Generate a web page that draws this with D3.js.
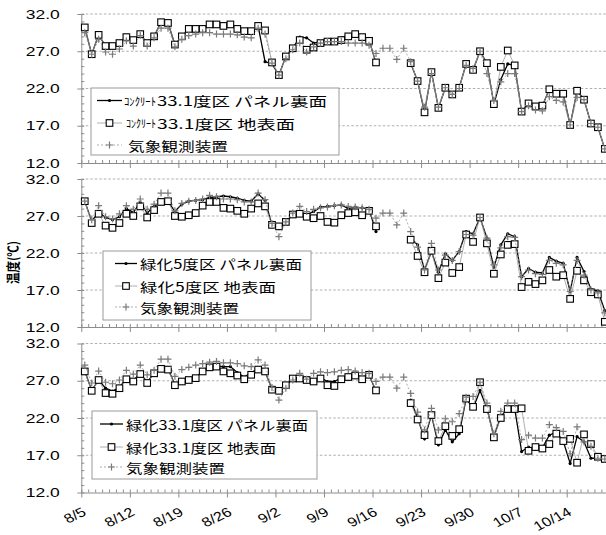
<!DOCTYPE html>
<html>
<head>
<meta charset="utf-8">
<script src="https://cdn.jsdelivr.net/npm/d3@7"></script>
<style>
  body { margin: 0; background: #fff; }
  svg { display: block; }
</style>
</head>
<body>
<div id="chart"></div>
<script>
// categories: one point per day, 8/5 .. 10/19
const days = d3.timeDay.range(new Date(2012, 7, 5), new Date(2012, 9, 20)).map(d3.timeFormat("%-m/%-d"));
const weekTicks = ["8/5", "8/12", "8/19", "8/26", "9/2", "9/9", "9/16", "9/23", "9/30", "10/7", "10/14"];
const yTicks = [12, 17, 22, 27, 32];
const _ = null;

// panel 1: コンクリート33.1度区
const con331Panel = [30.2, 26.6, 29.2, 27.7, 27.7, 28.1, 28.9, 28.5, 29.3, 28.1, 29.0, 30.9, 30.8, 27.9, 29.0, 30.0, 30.0, 30.0, 30.6, 30.6,
  30.4, 30.6, 30.0, 29.7, 29.7, 30.4, 25.6, 25.3, 23.8, 26.3, 27.4, 28.9, 28.8, 28.1, 28.3, 28.5, 28.6, 28.8, 29.2, 29.2,
  28.9, 28.5, 25.4, _, _, _, _, 25.4, 23.0, 18.8, 24.2, 19.4, 22.1, 21.2, 22.1, 25.3, 24.5, 27.0, 25.4, 19.9,
  23.2, 25.3, 25.1, 18.9, 20.0, 19.6, 19.7, 21.9, 21.3, 21.3, 17.1, 21.7, 20.5, 17.3, 16.8, 13.9];
const con331Ground = [30.2, 26.6, 29.2, 27.7, 27.7, 28.1, 28.9, 28.5, 29.3, 28.1, 29.0, 30.9, 30.8, 27.9, 29.0, 30.0, 30.0, 30.0, 30.6, 30.6,
  30.4, 30.6, 30.0, 29.7, 29.7, 30.4, 29.8, 25.5, 23.8, 26.3, 27.4, 28.5, 27.2, 27.5, 28.1, 28.3, 28.3, 28.5, 29.0, 29.3,
  28.9, 28.4, 25.5, _, _, _, _, 25.4, 23.0, 18.8, 24.2, 19.4, 22.1, 21.2, 22.1, 25.3, 24.5, 27.0, 25.4, 19.9,
  24.9, 27.1, 25.1, 18.9, 20.0, 19.6, 19.7, 21.9, 21.3, 21.3, 17.1, 21.7, 20.5, 17.3, 16.8, 13.9];
const con331Weather = [29.5, 26.6, 28.6, 26.9, 26.6, 27.3, 28.4, 27.7, 29.1, 27.7, 28.8, 30.1, 30.1, 27.6, 28.6, 29.1, 29.3, 29.5, 29.5, 29.3,
  29.3, 29.3, 29.2, 28.9, 28.8, 30.1, 29.3, 25.4, 23.8, 26.0, 27.2, 28.1, 26.9, 27.6, 28.1, 28.3, 28.3, 28.3, 28.1, 28.1,
  28.1, 27.8, 26.7, 27.4, 27.4, 25.9, 27.4, 25.6, 23.0, 19.5, 24.0, 19.5, 22.1, 21.2, 22.0, 25.1, 24.7, 27.0, 24.0, 20.4,
  22.9, 24.0, 24.0, 18.9, 19.7, 19.1, 19.0, 20.9, 20.4, 20.2, 17.1, 20.8, 20.5, 17.3, 16.8, 13.9];

// panel 2: 緑化5度区
const green5Panel = [29.0, 26.3, 27.5, 26.8, 26.5, 26.9, 28.0, 27.5, 28.8, 27.4, 28.3, 28.9, 29.0, 27.6, 28.6, 29.0, 29.1, 29.2, 29.5, 29.6,
  29.7, 29.6, 29.4, 29.1, 29.0, 30.0, 29.1, 25.8, 25.3, 26.1, 27.2, 27.6, 27.2, 27.6, 28.2, 28.3, 28.4, 28.5, 28.0, 28.2,
  28.1, 27.9, 24.9, _, _, _, _, 24.0, 23.1, 19.7, 22.2, 19.4, 21.9, 21.0, 22.2, 24.9, 24.6, 26.8, 24.0, 20.1,
  23.1, 24.6, 24.2, 18.8, 19.9, 19.4, 19.3, 21.4, 20.9, 20.6, 16.8, 21.4, 19.5, 17.1, 16.9, 14.2];
const green5Ground = [29.0, 26.05, 27.3, 25.7, 25.4, 26.05, 27.3, 27.0, 28.3, 26.8, 27.8, 28.9, 29.0, 27.0, 26.9, 27.1, 27.4, 28.4, 28.9, 28.9,
  28.1, 28.0, 27.7, 27.3, 28.0, 28.7, 28.3, 25.8, 25.6, 26.2, 27.2, 27.3, 26.9, 26.7, 27.0, 26.2, 26.1, 27.1, 27.4, 27.5,
  27.1, 27.7, 25.6, _, _, _, _, 23.8, 21.6, 19.4, 22.3, 18.6, 20.7, 19.3, 20.1, 24.5, 23.5, 26.8, 23.3, 19.2,
  21.8, 23.1, 23.2, 17.4, 18.1, 17.8, 18.3, 19.7, 18.8, 19.0, 15.8, 19.6, 18.3, 16.7, 16.4, 12.7];
const green5Weather = [29.0, 26.5, 28.4, 26.9, 26.6, 27.3, 28.4, 27.9, 29.3, 27.9, 28.6, 30.1, 30.1, 27.7, 28.7, 29.0, 29.1, 29.3, 29.8, 29.6,
  29.3, 29.3, 29.2, 28.9, 28.9, 30.1, 29.2, 26.0, 24.2, 26.2, 27.4, 28.3, 27.6, 27.9, 28.1, 28.2, 28.4, 28.5, 28.3, 28.2,
  28.1, 27.9, 26.7, 27.4, 27.4, 25.8, 27.4, 24.9, 22.8, 19.7, 23.3, 19.7, 21.7, 21.0, 22.2, 24.5, 24.4, 26.8, 24.0, 20.4,
  22.7, 24.2, 24.1, 18.8, 19.7, 19.2, 19.1, 21.0, 20.6, 20.4, 16.8, 21.0, 19.0, 17.0, 16.6, 13.9];

// panel 3: 緑化33.1度区
const green331Panel = [28.3, 25.7, 27.1, 26.0, 25.6, 26.1, 27.3, 27.0, 28.0, 26.8, 28.0, 28.6, 28.6, 26.5, 27.0, 27.2, 27.4, 28.3, 28.9, 29.0,
  28.9, 28.9, 28.1, 27.5, 28.1, 28.6, 28.2, 25.9, 25.6, 26.3, 27.3, 27.4, 27.3, 27.0, 27.4, 26.9, 26.9, 27.4, 27.6, 27.8,
  27.5, 27.8, 25.6, _, _, _, _, 24.4, 22.0, 19.2, 22.4, 18.4, 20.4, 18.8, 19.9, 24.6, 23.3, 25.7, 23.3, 19.5,
  22.2, 23.3, 23.3, 17.5, 18.1, 17.8, 18.0, 19.7, 20.1, 18.9, 15.9, 19.5, 18.8, 16.6, 16.6, 16.4];
const green331Ground = [28.25, 25.65, 27.1, 25.35, 25.25, 26.0, 27.2, 26.9, 27.9, 26.7, 28.0, 28.6, 28.5, 26.4, 26.9, 27.1, 27.35, 28.25, 28.8, 28.9,
  28.25, 28.0, 27.7, 27.2, 27.8, 28.5, 28.25, 25.8, 25.65, 26.4, 27.3, 27.3, 27.1, 26.9, 27.3, 26.4, 26.3, 27.2, 27.5, 27.7,
  27.2, 27.8, 25.7, _, _, _, _, 24.0, 21.8, 19.7, 22.4, 18.9, 20.9, 19.6, 20.5, 24.6, 23.5, 26.8, 23.2, 19.4,
  22.0, 23.2, 23.2, 23.3, 17.6, 18.1, 17.9, 18.5, 19.9, 18.9, 19.2, 16.0, 19.8, 18.5, 16.8, 16.5];
const green331Weather = [29.1, 26.7, 28.3, 26.8, 26.6, 27.1, 28.4, 27.9, 29.1, 27.8, 28.4, 29.9, 29.9, 27.6, 28.5, 28.8, 29.1, 29.3, 29.5, 29.6,
  29.4, 29.4, 29.3, 29.0, 28.9, 29.8, 29.1, 26.1, 24.4, 26.0, 27.1, 28.0, 27.2, 28.0, 28.2, 28.1, 28.2, 28.4, 28.5, 28.3,
  28.1, 28.0, 26.9, 27.5, 27.5, 26.0, 27.5, 25.3, 22.8, 20.4, 23.3, 20.4, 21.9, 21.5, 22.6, 24.8, 24.9, 26.8, 24.0, 19.9,
  22.9, 24.0, 24.0, 19.1, 19.7, 19.3, 19.3, 21.1, 20.7, 20.2, 17.2, 20.8, 18.8, 18.2, 16.6, 16.5];

const panels = [
  { top: 14, bottom: 163, series: [con331Panel, con331Ground, con331Weather],
    legend: { x: 91, y: 88, w: 248, h: 67, rows: [100.5, 123, 145], sx: [97, 122],
      labels: [
        [{ t: "ｺﾝｸﾘｰﾄ", x: 124, len: 32, fs: 11 }, { t: "33.1度区 パネル裏面", x: 157, len: 170, fs: 13 }],
        [{ t: "ｺﾝｸﾘｰﾄ", x: 126, len: 30, fs: 11 }, { t: "33.1度区 地表面", x: 157, len: 138, fs: 13 }],
        [{ t: "気象観測装置", x: 128, len: 100, fs: 13 }]] } },
  { top: 179, bottom: 327, series: [green5Panel, green5Ground, green5Weather],
    legend: { x: 103, y: 251, w: 208, h: 69, rows: [263.5, 286, 307], sx: [115, 137],
      labels: [
        [{ t: "緑化5度区 パネル裏面", x: 140, len: 162, fs: 13 }],
        [{ t: "緑化5度区 地表面", x: 140, len: 136, fs: 13 }],
        [{ t: "気象観測装置", x: 140, len: 99, fs: 13 }]] } },
  { top: 343.5, bottom: 492.5, series: [green331Panel, green331Ground, green331Weather],
    legend: { x: 92, y: 411, w: 225, h: 68, rows: [424, 447, 467], sx: [100, 123],
      labels: [
        [{ t: "緑化33.1度区 パネル裏面", x: 126, len: 182, fs: 13 }],
        [{ t: "緑化33.1度区 地表面", x: 126, len: 150, fs: 13 }],
        [{ t: "気象観測装置", x: 126, len: 99, fs: 13 }]] } }
];

const width = 606, height = 535;
const left = 81.3, dayW = 6.934;
const grey = "#8c8c8c";
const jpFont = "'Noto Sans CJK JP', 'Noto Sans', sans-serif";
const numFont = "'Liberation Sans', Arial, sans-serif";

const svg = d3.select("#chart").append("svg")
  .attr("width", width)
  .attr("height", height);

const x = d3.scaleLinear().domain([0, days.length]).range([left, left + days.length * dayW]);
const dayX = i => x(i + 0.5);

// marker drawers
function drawDot(g, cx, cy) {
  g.append("circle").attr("cx", cx).attr("cy", cy).attr("r", 1.6).attr("fill", "#000");
}
function drawSquare(g, cx, cy) {
  g.append("rect").attr("x", cx - 3.3).attr("y", cy - 3.3).attr("width", 6.6).attr("height", 6.6)
    .attr("fill", "#fff").attr("stroke", "#000").attr("stroke-width", 1.1);
}
function drawPlus(g, cx, cy) {
  g.append("path").attr("d", `M${cx - 3.5},${cy}H${cx + 3.5}M${cx},${cy - 3.5}V${cy + 3.5}`)
    .attr("stroke", "#7a7a7a").attr("stroke-width", 1.2).attr("fill", "none");
}
const styles = [
  { stroke: "#000", width: 1.3, dash: null, marker: drawDot },
  { stroke: "#9a9a9a", width: 0.8, dash: null, marker: drawSquare },
  { stroke: "#9a9a9a", width: 0.8, dash: "2,2", marker: drawPlus }
];

panels.forEach((p, pi) => {
  const y = d3.scaleLinear().domain([12, 32]).range([p.bottom, p.top]);
  const g = svg.append("g");

  // dashed gridlines
  g.selectAll(".grid").data(yTicks.slice(1)).enter().append("line")
    .attr("x1", left).attr("x2", width + 5)
    .attr("y1", d => y(d)).attr("y2", d => y(d))
    .attr("stroke", "#9a9a9a").attr("stroke-width", 0.8).attr("stroke-dasharray", "2.5,2");

  // y axis
  const yAxis = g.append("g").attr("transform", `translate(${left},0)`)
    .call(d3.axisLeft(y).tickValues(yTicks).tickFormat(d3.format(".1f")).tickSize(4).tickSizeOuter(0));
  yAxis.select(".domain").attr("stroke", grey);
  yAxis.selectAll(".tick line").attr("stroke", grey);
  yAxis.selectAll(".tick text")
    .attr("x", -55.5).attr("text-anchor", "start")
    .attr("textLength", 34).attr("lengthAdjust", "spacingAndGlyphs")
    .attr("font-family", numFont).attr("font-size", 13).attr("fill", "#000");
  // minor y ticks
  g.append("g").attr("transform", `translate(${left},0)`)
    .call(d3.axisRight(y).tickValues(d3.range(12, 33)).tickFormat("").tickSize(3))
    .call(a => a.select(".domain").remove())
    .selectAll("line").attr("stroke", grey);

  // x axis: major ticks at weeks, minor at days
  const xAxis = g.append("g").attr("transform", `translate(0,${p.bottom})`)
    .call(d3.axisBottom(x).tickValues(weekTicks.map(t => days.indexOf(t))).tickFormat("").tickSize(5).tickSizeOuter(0));
  xAxis.select(".domain").attr("stroke", grey);
  xAxis.selectAll(".tick line").attr("stroke", grey);
  g.append("g").attr("transform", `translate(0,${p.bottom})`)
    .call(d3.axisTop(x).tickValues(d3.range(0, days.length + 1)).tickFormat("").tickSize(3))
    .call(a => a.select(".domain").remove())
    .selectAll("line").attr("stroke", grey);

  // series
  p.series.forEach((vals, si) => {
    const st = styles[si];
    const line = d3.line().defined(d => d != null).x((d, i) => dayX(i)).y(d => y(d));
    g.append("path").datum(vals).attr("d", line)
      .attr("fill", "none").attr("stroke", st.stroke).attr("stroke-width", st.width)
      .attr("stroke-dasharray", st.dash);
    const mg = g.append("g");
    vals.forEach((v, i) => { if (v != null) st.marker(mg, dayX(i), y(v)); });
  });

  // legend
  const L = p.legend;
  const lg = svg.append("g");
  lg.append("rect").attr("x", L.x).attr("y", L.y).attr("width", L.w).attr("height", L.h)
    .attr("fill", "#fff").attr("stroke", "#9a9a9a").attr("stroke-width", 1);
  L.rows.forEach((cy, ri) => {
    const st = styles[ri];
    lg.append("line").attr("x1", L.sx[0]).attr("x2", L.sx[1]).attr("y1", cy).attr("y2", cy)
      .attr("stroke", st.stroke).attr("stroke-width", st.width).attr("stroke-dasharray", st.dash);
    st.marker(lg, (L.sx[0] + L.sx[1]) / 2, cy);
    L.labels[ri].forEach(part => {
      lg.append("text").attr("x", part.x).attr("y", cy)
        .attr("dominant-baseline", "central")
        .attr("font-family", jpFont).attr("font-size", part.fs)
        .attr("textLength", part.len).attr("lengthAdjust", "spacingAndGlyphs")
        .attr("fill", "#000").text(part.t);
    });
  });

  // date labels under the last panel only
  if (pi === panels.length - 1) {
    weekTicks.forEach(t => {
      const tx = x(days.indexOf(t));
      svg.append("text")
        .attr("transform", `translate(${tx + 6},${p.bottom + 22}) scale(1.25,1) rotate(-31)`)
        .attr("text-anchor", "end")
        .attr("font-family", numFont).attr("font-size", 13).attr("fill", "#000")
        .text(t);
    });
  }
});

// y axis title
svg.append("text")
  .attr("transform", "translate(17.5,262.5) scale(1.15,1) rotate(-90)")
  .attr("text-anchor", "middle")
  .attr("font-family", jpFont).attr("font-size", 11.5).attr("font-weight", "bold")
  .text("温度(℃)");
</script>
</body>
</html>
